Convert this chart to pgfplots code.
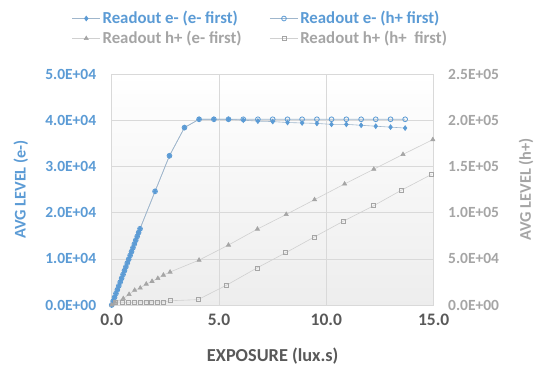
\documentclass[border=0pt]{standalone}
\usepackage{pgfplots}
\pgfplotsset{compat=1.18}
\usepackage{fontspec}
\setmainfont{Carlito}
\definecolor{cblue}{HTML}{5B9BD5}
\definecolor{cgray}{HTML}{A5A5A5}
\definecolor{ctext}{HTML}{595959}
\definecolor{cgrid}{HTML}{D9D9D9}
\definecolor{bline}{HTML}{9FB6CC}
\definecolor{gline}{HTML}{D0D0D0}
\begin{document}
\begin{tikzpicture}
\useasboundingbox (-111.7pt,-62pt) rectangle (427.3pt,305pt);
\pgfplotsset{
  common/.style={
    at={(0pt,0pt)}, anchor=south west,
    scale only axis, width=322pt, height=231pt,
    xmin=0, xmax=15, 
    tick style={draw=none},
    scaled ticks=false,
    /pgf/number format/assume math mode=true,
    yticklabel style={font=\fontsize{15.5}{17}\selectfont\bfseries},
    xticklabel style={font=\fontsize{17.5}{19}\selectfont\bfseries},
  }
}
\begin{axis}[common,
  axis background/.style={top color=white, bottom color=black!7},
  ymin=0, ymax=50000,
  xtick={0,5,10,15}, xticklabels={0.0,5.0,10.0,15.0},
  ytick={0,10000,20000,30000,40000,50000},
  yticklabels={0.0E+00,1.0E+04,2.0E+04,3.0E+04,4.0E+04,5.0E+04},
  yticklabel style={text=cblue, xshift=-12pt},
  xticklabel style={text=ctext, yshift=-5pt},
  xlabel={\textcolor{ctext}{EXPOSURE (lux.s)}},
  ylabel={\textcolor{cblue}{AVG LEVEL (e-)}},
  xlabel style={at={(axis description cs:0.5,-0.221)}, anchor=center, font=\fontsize{18.3}{20}\selectfont\bfseries},
  ylabel style={at={(axis description cs:-0.282,0.5)}, anchor=center, rotate=0, font=\fontsize{16.3}{18}\selectfont\bfseries},
  grid=major, major grid style={cgrid, line width=0.6pt},
  axis line style={draw=none},
  axis x line*=bottom,
  x axis line style={draw=cgrid, line width=0.8pt},
  legend columns=2,
  legend style={at={(axis description cs:0.462,1.197)}, anchor=center, draw=none, fill=none,
    font=\fontsize{16.8}{19}\selectfont\bfseries, row sep=2pt,
    /tikz/every even column/.append style={column sep=26pt}},
  legend cell align=left,
  legend image code/.code={\draw[mark repeat=2,mark phase=2] plot coordinates {(0pt,0pt) (14pt,0pt) (28pt,0pt)};},
]
\addplot[bline, line width=0.6pt, mark=diamond*, mark size=2.4pt, mark options={fill=cblue, draw=cblue}] coordinates {
(0,0) (0.066,820) (0.132,1650) (0.198,2480) (0.264,3300) (0.330,4130) (0.396,4950) (0.462,5780) (0.528,6600) (0.594,7430) (0.660,8250) (0.726,9080) (0.792,9900) (0.858,10730) (0.924,11550) (0.990,12380) (1.056,13200) (1.122,14030) (1.188,14850) (1.254,15680) (1.320,16500)
(2.02,24600) (2.69,32300) (3.39,38400) (4.07,40200) (4.76,40200) (5.44,40200) (6.13,40000) (6.81,39800) (7.50,39700) (8.19,39500) (8.87,39400) (9.56,39300) (10.24,39100) (10.93,39100) (11.62,38900) (12.30,38700) (12.99,38500) (13.67,38300)
};
\addlegendentry{\textcolor{cblue}{Readout e- (e- first)}}
\addplot[bline, line width=0.6pt, mark=o, mark size=2.4pt, mark options={draw=cblue, fill=cblue!25, line width=0.8pt}] coordinates {
(0,0) (0.066,820) (0.132,1650) (0.198,2480) (0.264,3300) (0.330,4130) (0.396,4950) (0.462,5780) (0.528,6600) (0.594,7430) (0.660,8250) (0.726,9080) (0.792,9900) (0.858,10730) (0.924,11550) (0.990,12380) (1.056,13200) (1.122,14030) (1.188,14850) (1.254,15680) (1.320,16500)
(2.02,24600) (2.69,32300) (3.39,38400) (4.07,40200) (4.76,40200) (5.44,40200) (6.13,40200) (6.81,40200) (7.50,40200) (8.19,40200) (8.87,40200) (9.56,40200) (10.24,40200) (10.93,40200) (11.62,40200) (12.30,40200) (12.99,40200) (13.67,40200)
};
\addlegendentry{\textcolor{cblue}{Readout e- (h+ first)}}
\addlegendimage{gline, line width=0.6pt, mark=triangle*, mark size=2.4pt, mark options={fill=cgray, draw=cgray}}
\addlegendentry{\textcolor{cgray}{Readout h+ (e- first)}}
\addlegendimage{gline, line width=0.6pt, mark=square, mark size=2pt, mark options={draw=cgray}}
\addlegendentry{\textcolor{cgray}{Readout h+ (h+\ \ first)}}
\end{axis}
\begin{axis}[common,
  ymin=0, ymax=250000,
  axis x line=none,
  axis y line*=right,
  y axis line style={draw=none},
  ytick={0,50000,100000,150000,200000,250000},
  yticklabels={0.0E+00,5.0E+04,1.0E+05,1.5E+05,2.0E+05,2.5E+05},
  yticklabel style={text=cgray, xshift=11pt},
  ylabel={\textcolor{cgray}{AVG LEVEL (h+)}},
  ylabel style={at={(axis description cs:1.287,0.5)}, anchor=center, rotate=0, font=\fontsize{16.3}{18}\selectfont\bfseries},
]
\addplot[gline, line width=0.6pt, mark=triangle*, mark size=2.4pt, mark options={fill=cgray, draw=cgray}] coordinates {
(0,0) (0.15,3000) (0.54,7000) (0.81,11500) (1.07,16000) (1.33,18400) (1.61,22700) (1.88,25600) (2.15,28800) (2.41,32400) (2.72,35700) (4.07,48600) (5.44,64900) (6.79,82200) (8.13,98000) (9.45,114000) (10.85,131000) (12.21,147000) (13.57,163000) (14.96,179000)
};
\addplot[gline, line width=0.6pt, mark=square, mark size=2pt, mark options={draw=cgray}] coordinates {
(0.18,3300) (0.50,2900) (0.79,2900) (1.05,2900) (1.31,3300) (1.59,3300) (1.86,3300) (2.12,3300) (2.41,3300) (2.71,4600) (4.02,5800) (5.36,21600) (6.76,40000) (8.10,56500) (9.43,73500) (10.80,90800) (12.20,107400) (13.50,124300) (14.90,141300)
};
\end{axis}
\end{tikzpicture}
\end{document}
